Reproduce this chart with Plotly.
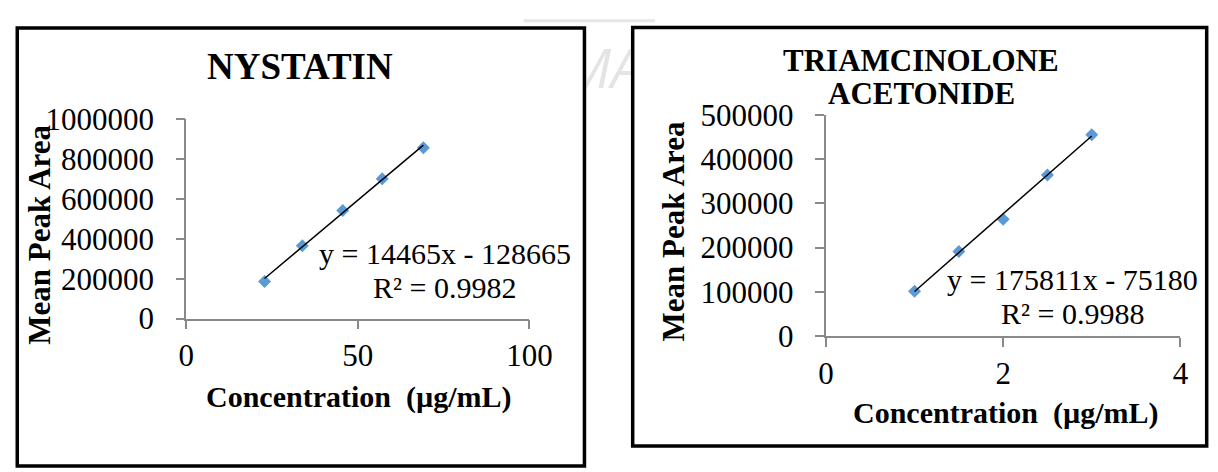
import plotly.graph_objects as go

W, H = 1218, 472

# Calibration data: nystatin
nys_conc = [22.8, 33.8, 45.6, 57.1, 69.1]
nys_area = [186000, 366000, 543000, 702000, 858000]
nys_slope, nys_icpt, nys_r2 = 14465, -128665, 0.9982

# Calibration data: triamcinolone acetonide
tri_conc = [1.0, 1.5, 2.0, 2.5, 3.0]
tri_area = [101000, 191000, 264000, 364000, 455000]
tri_slope, tri_icpt, tri_r2 = 175811, -75180, 0.9988

SERIF = "Liberation Serif"
AXIS_GRAY = "#898989"
MARKER_BLUE = "#5B9BD5"


def px(x):
    return x / W


def py(y):
    return 1 - y / H


fig = go.Figure()


def add_panel(xs, ys, slope, icpt, xa, ya):
    fig.add_trace(go.Scatter(
        x=xs, y=ys, mode="markers", xaxis=xa, yaxis=ya,
        marker=dict(symbol="diamond", size=10, color=MARKER_BLUE),
        showlegend=False, hoverinfo="skip"))
    x0, x1 = min(xs), max(xs)
    fig.add_trace(go.Scatter(
        x=[x0, x1], y=[slope * x0 + icpt, slope * x1 + icpt],
        mode="lines", xaxis=xa, yaxis=ya,
        line=dict(color="black", width=1.5),
        showlegend=False, hoverinfo="skip"))


add_panel(nys_conc, nys_area, nys_slope, nys_icpt, "x", "y")
add_panel(tri_conc, tri_area, tri_slope, tri_icpt, "x2", "y2")

axis_common = dict(
    showgrid=False, zeroline=False, showline=True,
    linecolor=AXIS_GRAY, linewidth=1.5,
    ticks="outside", ticklen=9, tickwidth=1.5, tickcolor=AXIS_GRAY,
    tickfont=dict(family=SERIF, size=31, color="black"),
    fixedrange=True,
)
# value labels sit a little further from the vertical axes
y_gap = dict(ticksuffix="\u2002")

fig.update_layout(
    width=W, height=H,
    margin=dict(l=0, r=0, t=0, b=0),
    paper_bgcolor="white", plot_bgcolor="white",
    xaxis=dict(domain=[px(183), px(535)], range=[0, 100], dtick=50,
               anchor="y", **axis_common),
    yaxis=dict(domain=[py(325.7), py(110.7)], range=[0, 1000000],
               dtick=200000, anchor="x", tickformat="d",
               **y_gap, **axis_common),
    xaxis2=dict(domain=[px(839.3), px(1203)], range=[0, 4], dtick=2,
                anchor="y2", **axis_common),
    yaxis2=dict(domain=[py(344.5), py(105.7)], range=[0, 500000],
                dtick=100000, anchor="x2", tickformat="d",
                **y_gap, **axis_common),
    # faint background lettering in the gap between the two panels
    xaxis3=dict(domain=[px(593.5), px(639)], range=[593.5, 639],
                visible=False, fixedrange=True, anchor="y3"),
    yaxis3=dict(domain=[py(80), py(13)], range=[80, 13],
                visible=False, fixedrange=True, anchor="x3"),
)

fig.add_trace(go.Scatter(
    x=[611], y=[62], mode="text", text=["MA"], xaxis="x3", yaxis="y3",
    textfont=dict(family="Open Sans", size=54, color="#e4e4e4", style="italic"),
    cliponaxis=True, showlegend=False, hoverinfo="skip"))

# panel frames
fig.add_shape(type="rect", xref="paper", yref="paper",
              x0=px(9.5), x1=px(591.5), y0=py(485), y1=py(12),
              line=dict(color="black", width=3.5))
fig.add_shape(type="rect", xref="paper", yref="paper",
              x0=px(641), x1=px(1230), y0=py(463.3), y1=py(11.3),
              line=dict(color="black", width=3.5))
fig.add_shape(type="line", xref="paper", yref="paper",
              x0=px(529), x1=px(664), y0=py(4), y1=py(4),
              line=dict(color="#e6e6e6", width=3))


def text(x, y, s, size, bold=False, angle=0):
    fig.add_annotation(
        x=px(x), y=py(y), xref="paper", yref="paper", text=s,
        showarrow=False, textangle=angle,
        xanchor="center", yanchor="middle",
        font=dict(family=SERIF, size=size, color="black",
                  weight="bold" if bold else "normal"))


# titles
text(300, 54, "NYSTATIN", 37, bold=True)
text(937, 47, "TRIAMCINOLONE", 31, bold=True)
text(937, 83, "ACETONIDE", 31, bold=True)

# axis titles
text(360, 410, "Concentration  (µg/mL)", 30, bold=True)
text(1024, 428, "Concentration  (µg/mL)", 30, bold=True)
text(32, 235, "Mean Peak Area", 31, bold=True, angle=-90)
text(683, 232, "Mean Peak Area", 31, bold=True, angle=-90)

# fitted equations
text(448, 255, f"y = {nys_slope}x - {abs(nys_icpt)}", 30)
text(448, 292, f"R² = {nys_r2}", 30)
text(1092, 283, f"y = {tri_slope}x - {abs(tri_icpt)}", 30)
text(1092, 320, f"R² = {tri_r2}", 30)

fig.write_html("out.html")
